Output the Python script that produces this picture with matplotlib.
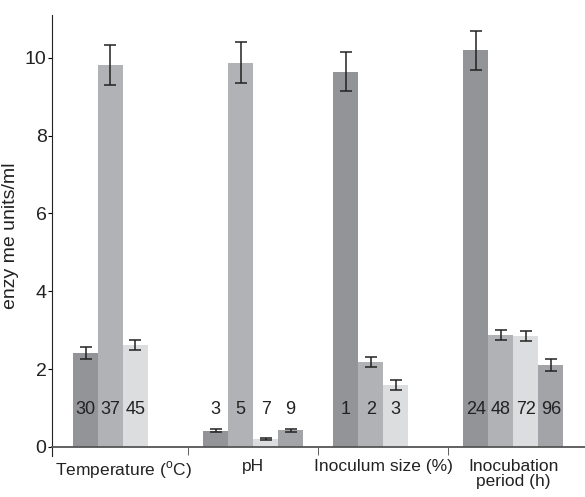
import numpy as np
import matplotlib
matplotlib.use('Agg')
import matplotlib.pyplot as plt

# data
groups = ['Temperature ($^{\\rm o}$C)', 'pH', 'Inoculum size (%)', 'Inocubation\nperiod (h)']
temp_labels = ['30', '37', '45']
temp_values = [2.42, 9.82, 2.62]
temp_errors = [0.15, 0.52, 0.12]
ph_labels = ['3', '5', '7', '9']
ph_values = [0.42, 9.88, 0.20, 0.43]
ph_errors = [0.04, 0.53, 0.03, 0.04]
inoc_labels = ['1', '2', '3']
inoc_values = [9.65, 2.19, 1.59]
inoc_errors = [0.50, 0.13, 0.12]
incub_labels = ['24', '48', '72', '96']
incub_values = [10.20, 2.88, 2.84, 2.11]
incub_errors = [0.50, 0.12, 0.13, 0.16]

colors = ['#939497', '#b0b2b5', '#dcdddf', '#a3a4a7']
plt.rcParams['font.family'] = ['Liberation Sans', 'DejaVu Sans']
plt.rcParams['mathtext.fontset'] = 'custom'
plt.rcParams['mathtext.rm'] = 'Liberation Sans'

fig = plt.figure(figsize=(5.85, 4.97), dpi=100)
ax = fig.add_axes([0.089, 0.1006 - 0.0178, 0.911, 0.869 + 0.0178])

width = 0.192
all_sets = [(temp_labels, temp_values, temp_errors),
            (ph_labels, ph_values, ph_errors),
            (inoc_labels, inoc_values, inoc_errors),
            (incub_labels, incub_values, incub_errors)]

for g, (labs, vals, errs) in enumerate(all_sets):
    for i in range(len(vals)):
        x = g + (i - 1.5) * width
        ax.bar(x, vals[i], width=width, color=colors[i], linewidth=0)
        ax.errorbar(x, vals[i], yerr=errs[i], fmt='none', ecolor='#222222',
                    elinewidth=1.1, capsize=4, capthick=1.1)
        ax.text(x, 0.95, labs[i], ha='center', va='center', fontsize=13,
                color='#222222')

ax.set_xlim(-0.545, 3.55)
ax.set_ylim(-0.23, 11.1)
ax.spines['top'].set_visible(False)
ax.spines['right'].set_visible(False)
ax.spines['bottom'].set_position(('data', 0))
ax.spines['bottom'].set_linewidth(1.3)
ax.spines['bottom'].set_color('#555555')
ax.spines['left'].set_color('#222222')

ax.set_yticks([0, 2, 4, 6, 8, 10])
ax.tick_params(axis='y', labelsize=14, length=3, pad=1, labelcolor='#222222')
ax.set_ylabel('enzy me units/ml', fontsize=14, labelpad=4, color='#222222')

ax.set_xticks([0, 1, 2, 3])
ax.set_xticklabels(groups, fontsize=12.5, va='top', linespacing=1.0, color='#222222')
ax.set_xticks([0.5, 1.5, 2.5], minor=True)
ax.tick_params(axis='x', which='major', length=0, pad=9)
ax.tick_params(axis='x', which='minor', length=6, direction='out', color='#444444')
ax.get_xticklabels()[0].set_x(-0.06)

fig.savefig('out.png', dpi=100)
